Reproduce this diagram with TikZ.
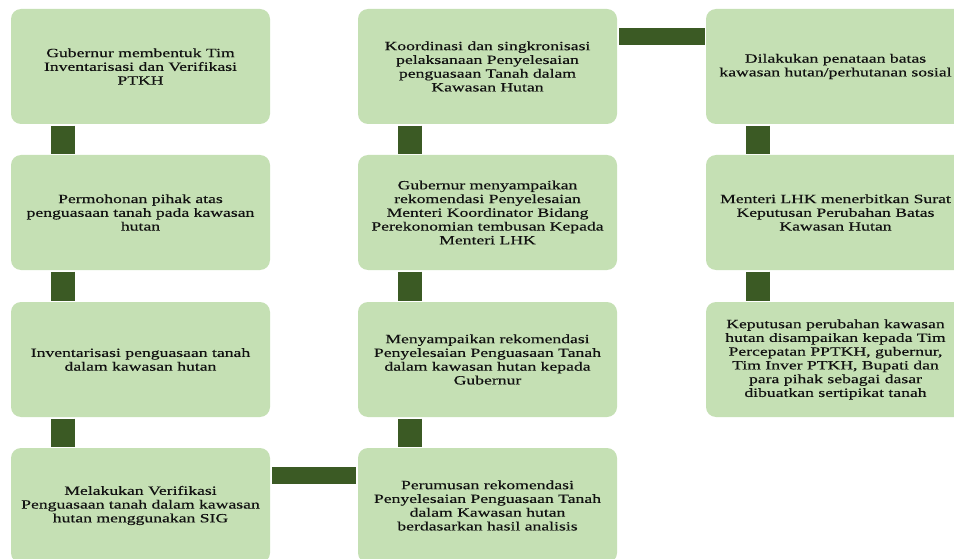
\documentclass[tikz,border=0pt]{standalone}
\usepackage{fontspec}
\setmainfont{Liberation Serif}[FakeStretch=1.4,FakeBold=0.4]
\definecolor{boxfill}{HTML}{C5E0B4}
\definecolor{barcol}{HTML}{3B5A24}
\definecolor{txt}{HTML}{111111}
\begin{document}
\begin{tikzpicture}[x=1pt,y=-1pt,
  box/.style={rectangle, rounded corners=10pt, fill=boxfill, minimum width=259pt, minimum height=115pt,
    inner sep=0pt, align=center, text=txt, font=\fontsize{12.6}{13.75}\selectfont},
  vbar/.style={draw=barcol, line width=24pt},
  hbar/.style={draw=barcol, line width=16.5pt}]
\useasboundingbox (0,0) rectangle (954,559);
\fill[white] (0,0) rectangle (954,559);
% column 1
\node[box] (a1) at (140.5,66.5) {Gubernur membentuk Tim\\Inventarisasi dan Verifikasi\\PTKH};
\node[box] (a2) at (140.5,212.5) {Permohonan pihak atas\\penguasaan tanah pada kawasan\\hutan};
\node[box] (a3) at (140.5,359.5) {Inventarisasi penguasaan tanah\\dalam kawasan hutan};
\node[box] (a4) at (140.5,505.5) {Melakukan Verifikasi\\Penguasaan tanah dalam kawasan\\hutan menggunakan SIG};
% column 2
\node[box] (b1) at (487.5,66.5) {Koordinasi dan singkronisasi\\pelaksanaan Penyelesaian\\penguasaan Tanah dalam\\Kawasan Hutan};
\node[box] (b2) at (487.5,212.5) {Gubernur menyampaikan\\rekomendasi Penyelesaian\\Menteri Koordinator Bidang\\Perekonomian tembusan Kepada\\Menteri LHK};
\node[box] (b3) at (487.5,359.5) {Menyampaikan rekomendasi\\Penyelesaian Penguasaan Tanah\\dalam kawasan hutan kepada\\Gubernur};
\node[box] (b4) at (487.5,505.5) {Perumusan rekomendasi\\Penyelesaian Penguasaan Tanah\\dalam Kawasan hutan\\berdasarkan hasil analisis};
% column 3
\node[box] (c1) at (835.5,66.5) {Dilakukan penataan batas\\kawasan hutan/perhutanan sosial};
\node[box] (c2) at (835.5,212.5) {Menteri LHK menerbitkan Surat\\Keputusan Perubahan Batas\\Kawasan Hutan};
\node[box] (c3) at (835.5,359.5) {Keputusan perubahan kawasan\\hutan disampaikan kepada Tim\\Percepatan PPTKH, gubernur,\\Tim Inver PTKH, Bupati dan\\para pihak sebagai dasar\\dibuatkan sertipikat tanah};
% vertical connectors
\foreach \u/\v in {a1/a2,a2/a3,a3/a4,b1/b2,b2/b3,b3/b4,c1/c2,c2/c3}{
  \draw[vbar] ([xshift=52pt,yshift=-1.5pt]\u.south west) -- ([xshift=52pt,yshift=1pt]\v.north west);
}
% horizontal connectors
\draw[hbar] ([xshift=2pt,yshift=-27.5pt]a4.north east) -- ([xshift=-2pt,yshift=-27.5pt]b4.north west);
\draw[hbar] ([xshift=2pt,yshift=-27.5pt]b1.north east) -- ([xshift=-1pt,yshift=-27.5pt]c1.north west);
\end{tikzpicture}
\end{document}
